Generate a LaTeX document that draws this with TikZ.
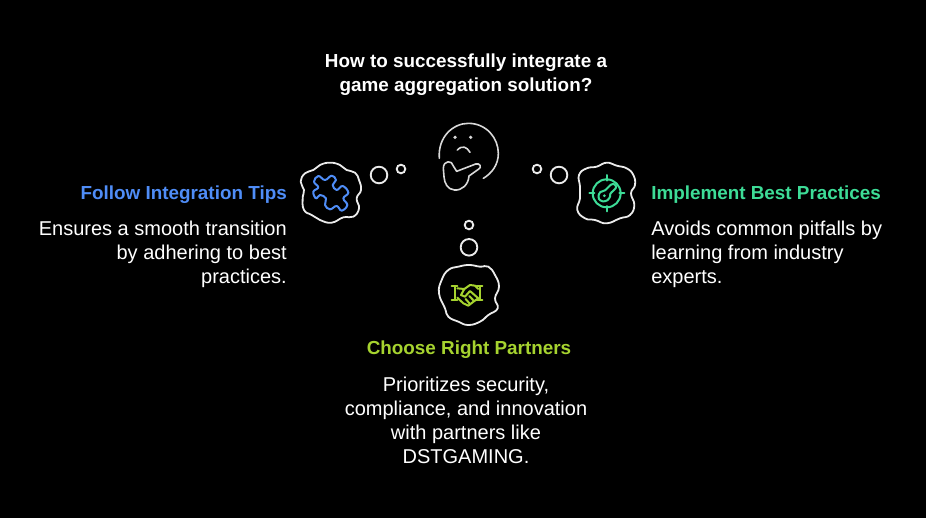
\documentclass[tikz,border=0pt]{standalone}
\usepackage{fontspec}
\setmainfont{Liberation Sans}
\definecolor{tipblue}{HTML}{4F8DF7}
\definecolor{bestgreen}{HTML}{3DDC97}
\definecolor{partnerlime}{HTML}{A6D32F}
\tikzset{
  zoomed/.style 2 args={x=.25pt,y=-.25pt,xshift=#1*.75pt,yshift=-#2*.75pt},
  outline/.style={draw=white!92!black,line width=1.35pt,line join=round,line cap=round},
  bubble/.style={draw=white!92!black,line width=1.4pt},
  icon/.style={line width=1.5pt,line join=round,line cap=round},
  heading/.style={inner sep=0pt,font=\fontsize{14.15}{18}\selectfont\bfseries},
  body/.style={inner sep=0pt,text=white,font=\fontsize{15}{18}\selectfont}
}
\begin{document}
\begin{tikzpicture}[x=.75pt,y=-.75pt]
  \fill[black] (0,0) rectangle (926,518);
  \useasboundingbox (0,0) rectangle (926,518);
  % question
  \node[heading,text=white,align=center,anchor=north] (question) at (466,54) {How to successfully integrate a\\game aggregation solution?};
  % thinker
  \begin{scope}[zoomed={425}{110}]
    \draw[icon,line width=1.2pt,draw=white!85!black] (43,145) .. controls (38,80) and (85,40) .. (130,40) .. controls (185,40) and (220,85) .. (220,130) .. controls (220,165) and (200,190) .. (175,205);
    \fill[white!85!black] (90,82) circle (5.5) (137,82) circle (5.5);
    \draw[icon,line width=1.2pt,draw=white!85!black] (97,120) .. controls (112,105) and (125,110) .. (135,127);
    \draw[icon,line width=1.2pt,draw=white!85!black] (95,184) -- (152,162) .. controls (165,158) and (172,172) .. (160,178) -- (132,198) .. controls (130,225) and (110,242) .. (88,240) .. controls (68,238) and (58,220) .. (57,200) -- (55,175) .. controls (55,150) and (82,150) .. (85,168) -- cycle;
  \end{scope}
  % left bubbles and cloud
  \draw[bubble] (379,175) circle (8.3);
  \draw[bubble] (401,169) circle (4.3);
  \begin{scope}[zoomed={290}{110}]
    \draw[outline] plot[smooth cycle,tension=.8] coordinates {(120,158) (150,165) (170,180) (195,188) (207,210) (213,240) (200,265) (207,295) (190,320) (160,322) (125,338) (90,330) (65,315) (42,300) (38,265) (42,240) (32,215) (45,190) (70,180) (90,165)};
    \draw[icon,draw=tipblue] plot[smooth cycle,tension=.7] coordinates {(72,215) (85,198) (105,210) (125,197) (138,210) (128,225) (140,240) (158,228) (175,248) (160,265) (172,285) (155,302) (140,288) (120,298) (105,285) (108,265) (90,255) (78,265) (70,245) (85,232)};
  \end{scope}
  \node[heading,text=tipblue,anchor=north east] (tips) at (287,186) {Follow Integration Tips};
  \node[body,align=right,anchor=north east] (tipstext) at (287,221) {Ensures a smooth transition\\by adhering to best\\practices.};
  % right bubbles and cloud
  \draw[bubble] (537,169) circle (4.3);
  \draw[bubble] (559,175) circle (8.3);
  \begin{scope}[zoomed={525}{150}]
    \draw[outline] plot[smooth cycle,tension=.8] coordinates {(245,38) (275,47) (305,55) (325,75) (330,105) (318,130) (328,165) (315,195) (285,205) (245,220) (210,210) (180,205) (157,180) (165,145) (165,110) (162,75) (185,55) (215,50)};
    \draw[icon,draw=bestgreen] (245,130) circle (42);
    \draw[icon,draw=bestgreen] (245,75) -- (245,92) (245,168) -- (245,184) (193,128) -- (208,128) (283,128) -- (298,128);
    \draw[icon,draw=bestgreen] plot[smooth,tension=.6] coordinates {(221,136) (226,126) (240,121) (258,104) (268,103) (273,113) (256,131) (255,140) (247,151) (233,154) (222,147) (221,136)};
    \fill[bestgreen] (238,137) circle (4.5);
  \end{scope}
  \node[heading,text=bestgreen,anchor=north west] (best) at (651,186) {Implement Best Practices};
  \node[body,align=left,anchor=north west] (besttext) at (651,221) {Avoids common pitfalls by\\learning from industry\\experts.};
  % bottom bubbles and cloud
  \draw[bubble] (469,225) circle (4.3);
  \draw[bubble] (469,247.3) circle (8.3);
  \begin{scope}[zoomed={425}{215}]
    \draw[outline] plot[smooth cycle,tension=.8] coordinates {(133,150) (165,155) (190,155) (210,180) (222,215) (210,250) (218,280) (190,300) (165,320) (130,330) (100,320) (70,305) (60,280) (42,235) (50,195) (70,165) (100,155)};
    \draw[icon,draw=partnerlime] (80,213) -- (97,213) (80,255) -- (97,255) (90,213) -- (90,255);
    \draw[icon,draw=partnerlime] (172,213) -- (155,213) (172,255) -- (155,255) (165,213) -- (165,255);
    \draw[icon,draw=partnerlime] (97,220) -- (118,222) -- (135,210) -- (150,212) -- (160,222);
    \draw[icon,draw=partnerlime] (118,222) -- (108,240) -- (120,245) -- (135,228) -- (160,250) -- (148,258) -- (130,272) -- (115,265) -- (97,248);
    \draw[icon,draw=partnerlime] (133,243) -- (147,258) (122,252) -- (135,267);
  \end{scope}
  \node[heading,text=partnerlime,anchor=north] (partners) at (469,341) {Choose Right Partners};
  \node[body,align=center,anchor=north] (partnerstext) at (466,377) {Prioritizes security,\\compliance, and innovation\\with partners like\\DSTGAMING.};
\end{tikzpicture}
\end{document}
